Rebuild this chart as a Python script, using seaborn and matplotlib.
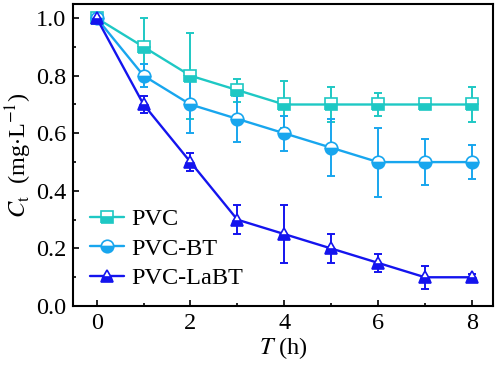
import numpy as np
import pandas as pd
import matplotlib
matplotlib.use('Agg')
import matplotlib.pyplot as plt
from matplotlib.lines import Line2D
import seaborn as sns

time_h = [0, 1, 2, 3, 4, 5, 6, 7, 8]
pvc = [1.0, 0.9, 0.8, 0.75, 0.7, 0.7, 0.7, 0.7, 0.7]
pvc_err = [0.0, 0.1, 0.15, 0.04, 0.08, 0.06, 0.04, 0.01, 0.06]
pvc_bt = [1.0, 0.8, 0.7, 0.65, 0.6, 0.55, 0.5, 0.5, 0.5]
pvc_bt_err = [0.0, 0.04, 0.1, 0.08, 0.06, 0.1, 0.12, 0.08, 0.06]
pvc_labt = [1.0, 0.7, 0.5, 0.3, 0.25, 0.2, 0.15, 0.1, 0.1]
pvc_labt_err = [0.0, 0.03, 0.03, 0.05, 0.1, 0.05, 0.03, 0.04, 0.01]

series = ['PVC', 'PVC-BT', 'PVC-LaBT']
colors = ['#1ec8c4', '#18a6ee', '#1414ee']
markers = ['s', 'o', '^']

sns.set_style('ticks')
plt.rcParams['font.family'] = ['Liberation Serif', 'DejaVu Serif']
plt.rcParams['mathtext.fontset'] = 'stix'
for k in ['text.color', 'axes.labelcolor', 'xtick.color', 'ytick.color']:
    plt.rcParams[k] = 'black'

df = pd.DataFrame({'T': time_h * 3,
                   'C': pvc + pvc_bt + pvc_labt,
                   'err': pvc_err + pvc_bt_err + pvc_labt_err,
                   'Sample': np.repeat(series, len(time_h))})

fig, ax = plt.subplots(figsize=(4.98, 3.71), dpi=100)

for name, col, mk in zip(series, colors, markers):
    sub = df[df['Sample'] == name]
    ax.errorbar(sub['T'], sub['C'], yerr=sub['err'], fmt='none',
                ecolor=col, elinewidth=1.4, capsize=3, capthick=1.4, zorder=2)
    sns.lineplot(data=sub, x='T', y='C', ax=ax, color=col, lw=1.7,
                 marker=mk, markersize=9, fillstyle='bottom',
                 markerfacecolor=col, markerfacecoloralt='white',
                 markeredgecolor=col, markeredgewidth=1.2, zorder=3,
                 legend=False)

# proxy handles so the legend keeps the half-filled markers
handles = [Line2D([], [], color=c, lw=1.7, marker=m, markersize=9,
                  fillstyle='bottom', markerfacecolor=c,
                  markerfacecoloralt='white', markeredgecolor=c,
                  markeredgewidth=1.2)
           for c, m in zip(colors, markers)]

ax.set_xlim(-0.5, 8.45)
ax.set_ylim(0, 1.05)
ax.set_xticks([0, 2, 4, 6, 8])
ax.set_xticks([1, 3, 5, 7], minor=True)
ax.set_yticks([0.0, 0.2, 0.4, 0.6, 0.8, 1.0])
ax.set_yticks([0.1, 0.3, 0.5, 0.7, 0.9], minor=True)
ax.tick_params(direction='in', which='both', labelsize=17.5, length=4, width=1.2,
               top=False, right=False, pad=5)
ax.tick_params(which='minor', length=2.5)
for s in ax.spines.values():
    s.set_visible(True)
    s.set_linewidth(1.5)
    s.set_color('black')

ax.set_xlabel(r'$T$ (h)', fontsize=17.5, labelpad=1)
ax.set_ylabel(r'$C_{\mathrm{t}}$  (mg$\cdot$L$^{-1}$)', fontsize=17.5, labelpad=1)

ax.legend(handles, series, loc='lower left', bbox_to_anchor=(0.0, 0.0),
          frameon=False, fontsize=17.5, handlelength=1.4, handletextpad=0.3,
          labelspacing=0.3, borderaxespad=0.3)

fig.subplots_adjust(left=0.147, right=0.99, top=0.99, bottom=0.175)
fig.savefig('out.png', dpi=100)
